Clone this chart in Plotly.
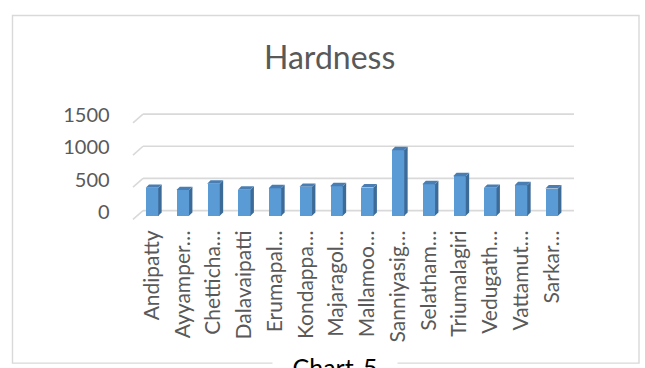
import plotly.graph_objects as go

# Water hardness by sampling site
sites = ["Andipatty", "Ayyamper…", "Chetticha…", "Dalavaipatti", "Erumapal…",
         "Kondappa…", "Majaragol…", "Mallamoo…", "Sanniyasig…", "Selatham…",
         "Triumalagiri", "Vedugath…", "Vattamut…", "Sarkar…"]
hardness = [435, 400, 500, 405, 430, 450, 460, 440, 1020, 490, 615, 435, 475, 425]
y_ticks = [0, 500, 1000, 1500]

W, H = 645, 368
FONT = "Lato"
GREY_TXT = "#595959"
GRID = "#d9d9d9"
FRONT, SIDE, TOP = "#5B9BD5", "#3D6B98", "#4A7EB2"


def px(x):
    return x / W


def py(y):
    return 1 - y / H


x_idx = list(range(len(sites)))
half_w = 0.205          # half bar width in category units
dx, dy = 0.11, 53       # oblique depth of the bar prisms (x units, y units)
back_off, front_off = 81, -55.6   # wall / floor-edge offsets of gridlines (y units)

fig = go.Figure()
fig.add_trace(go.Bar(
    x=x_idx, y=hardness, width=2 * half_w,
    marker=dict(color=FRONT, line=dict(width=0)),
    hoverinfo="x+y", showlegend=False,
))

shapes = []
# back-wall gridlines with the short slanted floor edge on the left
for v in y_ticks:
    shapes.append(dict(type="line", xref="paper", yref="y", layer="below",
                       x0=px(143), x1=px(574), y0=v + back_off, y1=v + back_off,
                       line=dict(color=GRID, width=1.6)))
    shapes.append(dict(type="line", xref="paper", yref="y", layer="below",
                       x0=px(133), x1=px(143), y0=v + front_off, y1=v + back_off,
                       line=dict(color=GRID, width=1.6)))

# side and top faces of each bar
for i, v in zip(x_idx, hardness):
    l, r = i - half_w, i + half_w
    side = f"M {r},0 L {r + dx},{dy} L {r + dx},{v + dy} L {r},{v} Z"
    top = f"M {l},{v} L {l + dx},{v + dy} L {r + dx},{v + dy} L {r},{v} Z"
    shapes.append(dict(type="path", xref="x", yref="y", path=side, layer="above",
                       fillcolor=SIDE, line=dict(width=0)))
    shapes.append(dict(type="path", xref="x", yref="y", path=top, layer="above",
                       fillcolor=TOP, line=dict(width=0)))

# outer chart frame
shapes.append(dict(type="rect", xref="paper", yref="paper",
                   x0=px(12.5), x1=px(639), y0=py(364), y1=py(4.7),
                   line=dict(color=GRID, width=1.4), fillcolor="rgba(0,0,0,0)"))

annotations = [
    dict(text="Hardness", xref="paper", yref="paper", x=px(329.5), y=py(47),
         xanchor="center", yanchor="middle", showarrow=False,
         font=dict(family=FONT, size=32, color=GREY_TXT)),
    dict(text="Chart-5", xref="paper", yref="paper", x=px(335), y=py(368),
         xanchor="center", yanchor="middle", showarrow=False,
         bgcolor="white", width=122, borderpad=1,
         font=dict(family=FONT, size=25, color="#000000")),
]

fig.update_layout(
    width=W, height=H,
    margin=dict(l=0, r=0, t=0, b=0),
    paper_bgcolor="white", plot_bgcolor="rgba(0,0,0,0)",
    shapes=shapes, annotations=annotations,
    bargap=0,
    xaxis=dict(
        domain=[px(136.6), px(567.1)], range=[-0.5, len(sites) - 0.5],
        tickmode="array", tickvals=x_idx, ticktext=sites, tickangle=-90,
        showgrid=False, zeroline=False, showline=False, ticks="",
        ticklabelstandoff=3,
        tickfont=dict(family=FONT, size=21, color=GREY_TXT),
    ),
    yaxis=dict(
        domain=[py(218.35), py(105.3)], range=[-100, 1600],
        tickmode="array", tickvals=y_ticks,
        showgrid=False, zeroline=False, showline=False, ticks="",
        ticklabelstandoff=26, ticklabelshift=-4,
        tickfont=dict(family=FONT, size=20, color=GREY_TXT),
    ),
)

fig.write_html("out.html")
